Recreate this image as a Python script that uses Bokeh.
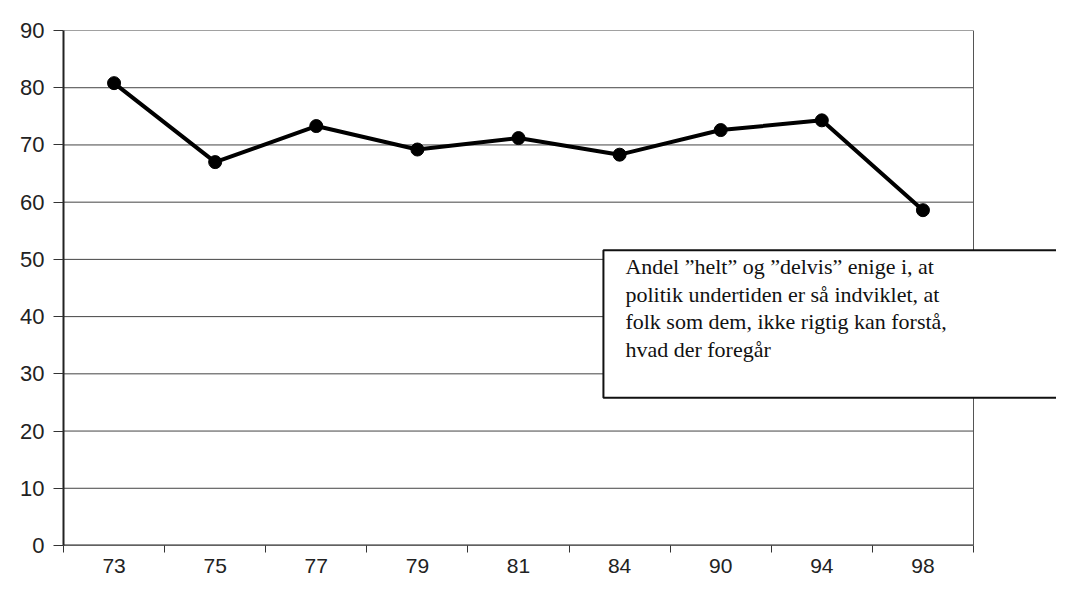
from bokeh.plotting import figure
from bokeh.models import Range1d, FixedTicker, Label
from bokeh.embed import file_html
from bokeh.resources import INLINE

# Data
years = ["73", "75", "77", "79", "81", "84", "90", "94", "98"]
values = [80.8, 67.0, 73.3, 69.2, 71.2, 68.3, 72.6, 74.3, 58.6]
y_ticks = [0, 10, 20, 30, 40, 50, 60, 70, 80, 90]
note = ("Andel \u201dhelt\u201d og \u201ddelvis\u201d enige i, at\n"
        "politik undertiden er s\u00e5 indviklet, at\n"
        "folk som dem, ikke rigtig kan forst\u00e5,\n"
        "hvad der foreg\u00e5r")

# Layout constants
W, H = 1056, 575
LEFT, TOP = 63, 30
PLOT_W = 910          # width of the area that holds the categories
n = len(years)
xs = [i + 0.5 for i in range(n)]
x_end = n * (W - LEFT) / PLOT_W   # frame reaches the canvas edge so the note box can overhang

p = figure(width=W, height=H, output_backend="svg", toolbar_location=None,
           x_range=Range1d(0, x_end), y_range=Range1d(0, y_ticks[-1]),
           min_border_left=LEFT, min_border_right=0, min_border_top=TOP, min_border_bottom=0)

p.background_fill_color = "white"
p.border_fill_color = "white"
p.outline_line_color = None

# Y axis
p.yaxis.ticker = FixedTicker(ticks=y_ticks)
p.yaxis.major_tick_out = 10
p.yaxis.major_tick_in = 0
p.yaxis.minor_tick_line_color = None
p.yaxis.axis_line_color = "#222222"
p.yaxis.axis_line_width = 2
p.yaxis.major_tick_line_color = "#333333"
p.yaxis.major_label_standoff = 9
p.yaxis.major_label_text_font = "Liberation Sans"
p.yaxis.major_label_text_font_size = "22px"
p.yaxis.major_label_text_color = "#222222"

# X axis: labels at category centres, tick marks at boundaries
p.xaxis.ticker = FixedTicker(ticks=xs, minor_ticks=list(range(n + 1)))
p.xaxis.major_label_overrides = {x: y for x, y in zip(xs, years)}
p.xaxis.major_tick_out = 0
p.xaxis.major_tick_in = 0
p.xaxis.major_tick_line_color = None
p.xaxis.minor_tick_out = 7
p.xaxis.minor_tick_in = 0
p.xaxis.minor_tick_line_color = "#333333"
p.xaxis.axis_line_color = None
p.xaxis.major_label_standoff = 6
p.xaxis.major_label_text_font = "Liberation Sans"
p.xaxis.major_label_text_font_size = "21px"
p.xaxis.major_label_text_color = "#222222"

# Grid drawn only across the category area
p.xgrid.grid_line_color = None
p.ygrid.grid_line_color = None
p.segment(x0=[0] * len(y_ticks), x1=[n] * len(y_ticks), y0=y_ticks, y1=y_ticks,
          line_color="#444444", line_width=1)
# bottom axis line and right border
p.segment(x0=[0], x1=[n], y0=[0], y1=[0], line_color="#222222", line_width=2)
p.segment(x0=[n], x1=[n], y0=[0], y1=[y_ticks[-1]], line_color="#555555", line_width=1)

# Series
p.line(xs, values, line_color="black", line_width=4)
p.scatter(xs, values, size=13, fill_color="black", line_color="black")

# Note box (runs past the right edge, as in the original scan)
p.add_layout(Label(x=5.34, y=51.6, text=note, anchor="top_left", level="overlay",
                   text_font="Liberation Serif", text_font_size="22px",
                   text_color="#111111", text_line_height=1.1,
                   background_fill_color="white", border_line_color="#111111",
                   border_line_width=2,
                   padding=dict(left=22, right=260, top=4, bottom=36)))

open("out.html", "w").write(file_html(p, INLINE))
